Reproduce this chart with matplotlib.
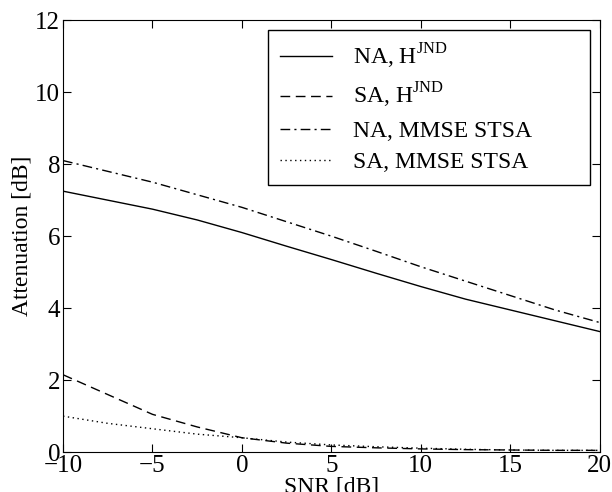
import numpy as np
import matplotlib
matplotlib.use('Agg')
import matplotlib.pyplot as plt

# SNR grid [dB]
snr = [-10, -7.5, -5, -2.5, 0, 2.5, 5, 7.5, 10, 12.5, 15, 17.5, 20]

# attenuation values [dB]
na_jnd = [7.25, 7.0, 6.75, 6.45, 6.1, 5.72, 5.35, 4.97, 4.6, 4.25, 3.95, 3.65, 3.35]
sa_jnd = [2.15, 1.6, 1.05, 0.7, 0.4, 0.25, 0.16, 0.12, 0.09, 0.07, 0.06, 0.05, 0.05]
na_mmse = [8.1, 7.8, 7.5, 7.15, 6.8, 6.4, 6.0, 5.58, 5.15, 4.75, 4.35, 3.95, 3.6]
sa_mmse = [1.0, 0.8, 0.65, 0.5, 0.4, 0.28, 0.2, 0.15, 0.11, 0.08, 0.06, 0.05, 0.05]

labels = ['NA, H$^{\\mathrm{JND}}$', 'SA, H$^{\\mathrm{JND}}$',
          'NA, MMSE STSA', 'SA, MMSE STSA']

plt.rcParams['font.family'] = ['Liberation Serif', 'DejaVu Serif']
plt.rcParams['mathtext.fontset'] = 'custom'
plt.rcParams['mathtext.rm'] = 'Liberation Serif'

fig = plt.figure(figsize=(6.12, 4.92), dpi=100)
ax = fig.add_axes([0.103, 0.081, 0.877, 0.878])

ax.plot(snr, na_jnd, color='black', linestyle='-', linewidth=1.0, label=labels[0])
ax.plot(snr, sa_jnd, color='black', linestyle=(0, (7, 4)), linewidth=1.0, label=labels[1])
ax.plot(snr, na_mmse, color='black', linestyle=(0, (7, 3, 1.5, 3)), linewidth=1.0, label=labels[2])
ax.plot(snr, sa_mmse, color='black', linestyle=(0, (1, 2.5)), linewidth=1.0, label=labels[3])

ax.set_xlim(-10, 20)
ax.set_ylim(0, 12)
ax.set_xticks([-10, -5, 0, 5, 10, 15, 20])
ax.set_yticks([0, 2, 4, 6, 8, 10, 12])
ax.set_xticklabels(['\u221210', '\u22125', '0', '5', '10', '15', '20'])
ax.tick_params(direction='in', top=True, right=True, labelsize=18, length=6, pad=2)
ax.set_xlabel('SNR [dB]', fontsize=17, labelpad=0)
ax.set_ylabel('Attenuation [dB]', fontsize=17, labelpad=2)

leg = ax.legend(loc='upper left', bbox_to_anchor=(0.382, 0.977, 0.6, 0.0), mode='expand',
                fontsize=17, fancybox=False, edgecolor='black', framealpha=1,
                handlelength=2.2, handletextpad=0.9, borderpad=0.5, labelspacing=0.42,
                borderaxespad=0)
leg.get_frame().set_linewidth(1.0)

fig.savefig('out.png', dpi=100)
